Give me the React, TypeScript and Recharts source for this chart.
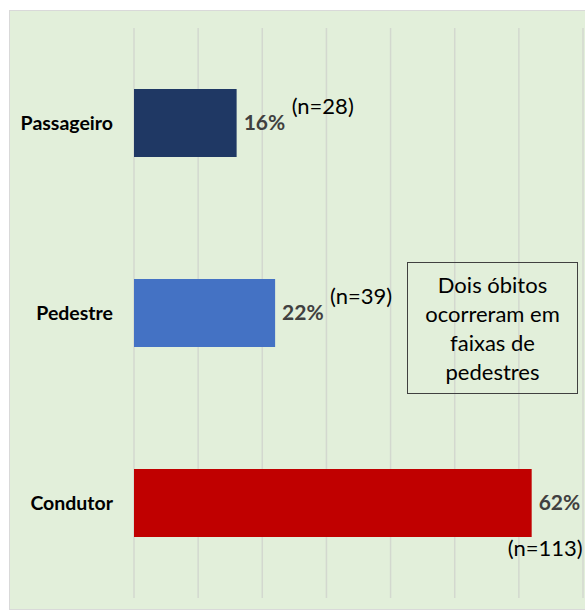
import { BarChart, Bar, XAxis, YAxis, CartesianGrid, LabelList, Cell } from 'recharts';

const categories = ['Passageiro', 'Pedestre', 'Condutor'];
const percentages = [16, 22, 62];
const counts = ['(n=28)', '(n=39)', '(n=113)'];
const barColors = ['#1f3864', '#4472c4', '#c00000'];
const xTicks = [0, 10, 20, 30, 40, 50, 60, 70];
const noteLines = ['Dois óbitos', 'ocorreram em', 'faixas de', 'pedestres'];

const data = categories.map((name, i) => ({
  name,
  pct: percentages[i],
  n: counts[i],
}));

const FONT = 'Lato, "Open Sans", sans-serif';

function CountLabel(props: any) {
  const { x, y, width, height, index, value } = props;
  const last = index === data.length - 1;
  if (last) {
    return (
      <text x={x + width + 51} y={y + height + 11} dy="0.35em" textAnchor="end" fontSize={22} fill="#000" fontFamily={FONT}>
        {value}
      </text>
    );
  }
  return (
    <text x={x + width + 55} y={y + 17} dy="0.35em" textAnchor="start" fontSize={22} fill="#000" fontFamily={FONT}>
      {value}
    </text>
  );
}

// hidden x ticks, but keep them so the grid has positions
const NoTick = () => <g />;

export default function App() {
  return (
    <div style={{ position: 'absolute', left: 0, top: 0, width: 585, height: 610, background: '#fff', overflow: 'hidden', fontFamily: FONT }}>
      <div style={{ position: 'absolute', left: 9, top: 10, width: 590, height: 598, background: '#e2efda', border: '1px solid #d9d9d9' }} />
      <div style={{ position: 'absolute', left: 0, top: 0 }}>
        <BarChart
          width={585}
          height={610}
          data={data}
          layout="vertical"
          margin={{ top: 28, right: 2, bottom: 12, left: 0 }}
          barCategoryGap={0}
          barSize={68}
        >
          <CartesianGrid horizontal={false} stroke="#d3d8cf" strokeWidth={1.5} />
          <XAxis type="number" domain={[0, 70]} ticks={xTicks} tick={NoTick} axisLine={false} tickLine={false} height={0} />
          <YAxis
            type="category"
            dataKey="name"
            width={134}
            axisLine={false}
            tickLine={false}
            tickMargin={15}
            tick={{ fill: '#000', fontSize: 19.5, fontWeight: 700, fontFamily: FONT }}
          />
          <Bar dataKey="pct" isAnimationActive={false}>
            {data.map((d, i) => (
              <Cell key={d.name} fill={barColors[i]} />
            ))}
            <LabelList
              dataKey="pct"
              position="right"
              offset={7}
              formatter={(v: any) => `${v}%`}
              style={{ fill: '#404040', fontSize: 21, fontWeight: 700, fontFamily: FONT }}
            />
            <LabelList dataKey="n" content={CountLabel} />
          </Bar>
        </BarChart>
      </div>
      <div
        style={{
          position: 'absolute',
          left: 407,
          top: 262,
          width: 169,
          height: 130,
          border: '1px solid #404040',
          display: 'flex',
          flexDirection: 'column',
          justifyContent: 'center',
          alignItems: 'center',
          fontSize: 22,
          lineHeight: '29px',
          color: '#000',
        }}
      >
        {noteLines.map((l) => (
          <div key={l}>{l}</div>
        ))}
      </div>
    </div>
  );
}
